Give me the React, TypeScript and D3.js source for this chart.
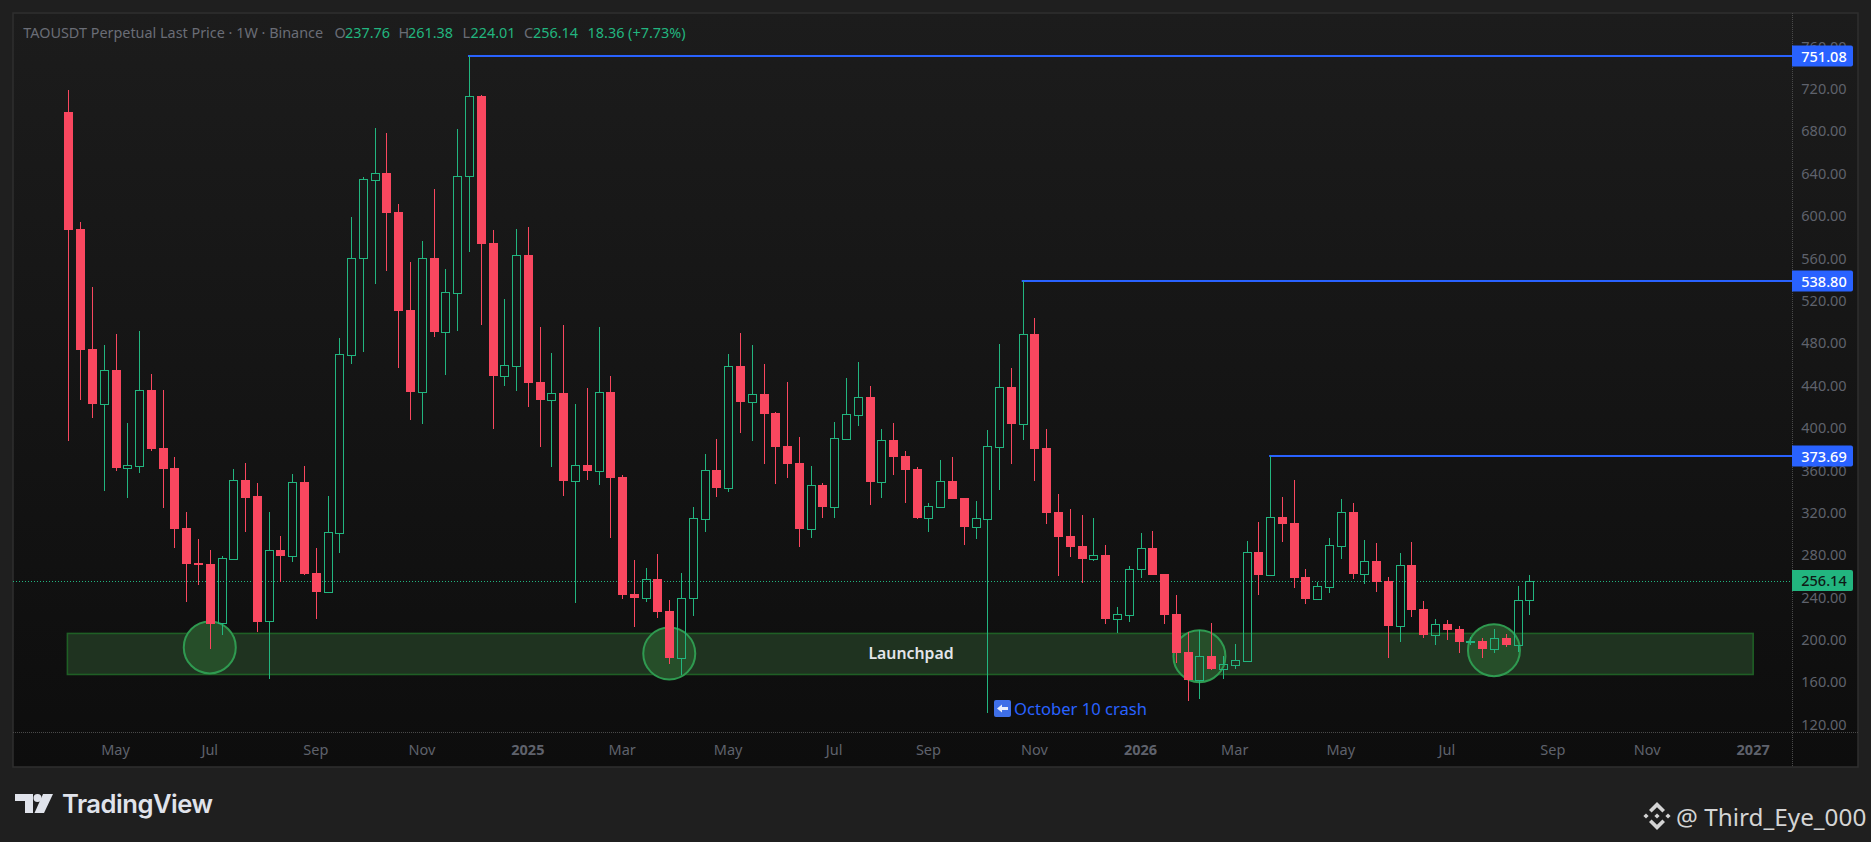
import React, { useRef, useEffect } from "react";
import * as d3 from "d3";

const firstWeek = new Date(Date.UTC(2024, 3, 8));

const opens = [
  698.2, 587.8, 474.5, 422.9, 454.7, 362.5, 364.4, 435.8, 381.1, 362.2,
  305.6, 272.6, 271.6, 215.6, 276.6, 350.9, 335.8, 217.5, 284.8, 279.1,
  349, 263.1, 245.4, 301.1, 469.1, 560.1, 634.3, 640.6, 603.8, 511.3,
  434.2, 560.4, 490.8, 527.7, 637.5, 713.3, 574.6, 449, 458.8, 563.2,
  443.4, 426.7, 433, 350.2, 365, 359.7, 433.9, 353.7, 243.3, 239.8,
  257.4, 227.2, 183.5, 239.2, 314.4, 360.3, 343.6, 458.5, 424.8, 432,
  414.1, 383, 366.9, 304.9, 346.2, 325.7, 389.9, 412.5, 429.2, 349.3,
  388.6, 373.5, 361.2, 315.3, 325.7, 349.9, 333.9, 306.8, 314.4, 382.3,
  438.6, 404, 488.7, 381.1, 320.7, 298, 288.6, 276.6, 280.1, 220,
  223.8, 266.6, 286.7, 262.2, 224.4, 188.5, 162.4, 184.8, 172.8, 176.5,
  180.3, 283.1, 261.5, 316, 310.3, 259.3, 238.9, 250.2, 288.9, 320.7,
  262.4, 274.4, 255.5, 213.4, 270.6, 229.1, 204.9, 215, 210.2, 198.2,
  198.9, 191.7, 201.8, 195.4, 237.76,
];
const closes = [
  586.8, 473.6, 422.6, 454.7, 362.2, 364.8, 435.5, 380.1, 361.2, 304.6,
  271.6, 271.1, 215.2, 277.2, 350.9, 333.9, 216.9, 284.8, 279.1, 349,
  262.2, 245.2, 301.8, 469.8, 560.1, 634.7, 640.3, 602.9, 510.4, 433.9,
  560.1, 490.6, 528, 637.5, 713, 573.6, 449, 459.1, 563, 442.4,
  426.4, 432.7, 349.9, 364.8, 359.4, 433.6, 352.8, 242.3, 239.5, 257.2,
  226.3, 182.9, 239.2, 315, 360, 343.3, 458.2, 424.5, 431.8, 413.2,
  382, 366, 304.6, 345.9, 325.4, 390.2, 412.9, 429, 349, 388.3,
  372.6, 360.3, 315, 326.1, 349.7, 332.9, 306.5, 314.7, 382.7, 438.4,
  403.7, 488.4, 380.1, 319.7, 297.1, 287.6, 276.3, 279.8, 219.7, 224.1,
  266.6, 286.7, 261.2, 223.5, 187.6, 162.1, 184.5, 172.5, 177, 180.7,
  282.6, 261.2, 315.7, 309.4, 258.4, 238.6, 250.6, 289.2, 320.4, 262.2,
  274.2, 254.6, 213.1, 270.4, 228.2, 204.6, 214.7, 209.3, 198, 198.9,
  191.4, 201.5, 195.1, 237.7, 256.14,
];
const highs = [
  719, 594.4, 533, 478.3, 488.7, 404.7, 491.5, 450.9, 435.8, 372.6,
  320.7, 295.2, 284.8, 279.1, 361.2, 366.9, 348, 320.7, 298, 356.5,
  364.1, 286.7, 335.8, 484.9, 599.1, 636.9, 683.1, 678.4, 611.4, 556.6,
  576.4, 625.5, 550, 682.2, 751.08, 714.2, 586.8, 521.7, 587.8, 589.6,
  495.3, 470.7, 497.2, 422.6, 437.7, 495.3, 449, 355.6, 275.4, 267.8,
  281, 237.6, 263.1, 325.4, 375.4, 389.6, 469.8, 489.6, 478.3, 460.4,
  415, 443.4, 391.4, 364.1, 348, 405.6, 447.2, 462.2, 439.6, 399,
  404.7, 378.2, 363.2, 329.2, 369.8, 372.6, 333.9, 331.1, 398.1, 479.2,
  456.6, 538.8, 503.8, 399, 337.7, 323.5, 317.8, 315, 289.5, 231,
  269.7, 300.9, 302.7, 262.2, 242.3, 207.4, 209.3, 215.9, 184.8, 196.1,
  293.3, 311.2, 373.69, 334.8, 350.9, 266.9, 254.6, 296.1, 332.9, 329.2,
  294.2, 291.4, 259.3, 282, 292.4, 236.7, 219.7, 218.7, 213.1, 202.7,
  201.8, 210.2, 205.5, 250.8, 261.38,
];
const lows = [
  387.7, 426.4, 409.4, 340.5, 359.4, 333.9, 357.5, 378.2, 324.4, 286.7,
  235.7, 251.8, 191.4, 204.6, 275.4, 301.8, 207.4, 163.3, 254.6, 273.5,
  261.2, 219.7, 245.2, 282, 460.4, 471.7, 535.9, 548.1, 456.6, 407.5,
  403.7, 485.8, 450, 491.5, 566.1, 497.2, 399, 439.6, 434.9, 419.8,
  382, 363.2, 335.8, 234.8, 350.9, 346.2, 296.1, 238.6, 212.4, 235.7,
  220.6, 177.2, 166.8, 222.5, 301.8, 334.8, 339.6, 395.2, 387.7, 366,
  347.1, 352.8, 287.6, 296.1, 315, 315, 389.6, 401.8, 327.3, 333.9,
  355.6, 329.2, 314.1, 301.8, 325.4, 332.9, 289.5, 295.2, 131, 341.4,
  366, 388.6, 349.9, 309.3, 260.3, 278.2, 253.7, 274.4, 215, 206.5,
  216.9, 258.4, 261.2, 215, 178.2, 142.3, 144.2, 171.6, 163.1, 172.5,
  180.3, 242.3, 261.2, 292.4, 249, 233.8, 238.9, 244.2, 276.3, 257.4,
  252.7, 245.2, 182.9, 198, 221.6, 201.8, 195.1, 199.9, 187.6, 195.1,
  182.9, 187.6, 193.2, 188.5, 224.01,
];

const priceTicks = d3.range(120, 761, 40);
const timeTickDates = [
  "2024-05-06", "2024-07-01", "2024-09-02", "2024-11-04", "2025-01-06", "2025-03-03",
  "2025-05-05", "2025-07-07", "2025-09-01", "2025-11-03", "2026-01-05", "2026-03-02",
  "2026-05-04", "2026-07-06", "2026-09-07", "2026-11-02", "2027-01-04",
];
const timeTickLabels = [
  "May", "Jul", "Sep", "Nov", "2025", "Mar", "May", "Jul", "Sep", "Nov", "2026", "Mar",
  "May", "Jul", "Sep", "Nov", "2027",
];

// horizontal rays from the swing highs
const rayBars = [34, 81, 102];
const rayPrices = [751.08, 538.8, 373.69];
const lastPrice = 256.14;

const zoneTop = 206.2;
const zoneBottom = 167.5;
const zoneEnd = "2027-01-04";
const circleBars = [12, 51, 96, 121];
const circlePrices = [193, 187.3, 184.8, 190.4];

const GREEN = "#22b57f";
const RED = "#f9475f";
const BLUE = "#2962ff";
const FONT = "'Noto Sans', sans-serif";
const GREY = "#5f626c";

const App: React.FC = () => {
  const chartRef = useRef<SVGSVGElement>(null);

  useEffect(() => {
    if (!chartRef.current) return;
    const svg = d3.select(chartRef.current);
    svg.selectAll("*").remove();

    const frame = { left: 13, top: 13, right: 1858, bottom: 767, axisX: 1792, axisY: 732 };

    const barDates = opens.map((_, i) => d3.utcMonday.offset(firstWeek, i));
    const x = d3
      .scaleUtc()
      .domain([barDates[0], barDates[barDates.length - 1]])
      .range([68.4, 1529.3]);
    const y = d3.scaleLinear().domain([120, 751.08]).range([724.8, 56]);

    const defs = svg.append("defs");
    const grad = defs
      .append("linearGradient")
      .attr("id", "paneBg")
      .attr("x1", 0)
      .attr("x2", 0)
      .attr("y1", 0)
      .attr("y2", 1);
    grad.append("stop").attr("offset", "0%").attr("stop-color", "#1c1c1c");
    grad.append("stop").attr("offset", "100%").attr("stop-color", "#0d0d0d");

    svg.append("rect").attr("width", 1871).attr("height", 842).attr("fill", "#1f1f1f");
    svg
      .append("rect")
      .attr("x", frame.left)
      .attr("y", frame.top)
      .attr("width", frame.right - frame.left)
      .attr("height", frame.bottom - frame.top)
      .attr("fill", "url(#paneBg)")
      .attr("stroke", "#2f2f2f")
      .attr("stroke-width", 1.5);

    // pane dividers
    svg
      .append("line")
      .attr("x1", frame.left)
      .attr("x2", frame.right)
      .attr("y1", frame.axisY + 0.5)
      .attr("y2", frame.axisY + 0.5)
      .attr("stroke", "#4a4a4a")
      .attr("stroke-dasharray", "1 1");
    svg
      .append("line")
      .attr("x1", frame.axisX + 0.5)
      .attr("x2", frame.axisX + 0.5)
      .attr("y1", frame.top)
      .attr("y2", frame.bottom)
      .attr("stroke", "#4a4a4a")
      .attr("stroke-dasharray", "1 1");

    // last price line
    svg
      .append("line")
      .attr("x1", frame.left)
      .attr("x2", frame.axisX)
      .attr("y1", Math.round(y(lastPrice)) + 0.5)
      .attr("y2", Math.round(y(lastPrice)) + 0.5)
      .attr("stroke", GREEN)
      .attr("stroke-dasharray", "1 2");

    // Launchpad zone
    const zx0 = x(barDates[0]) - 1;
    const zx1 = x(new Date(zoneEnd));
    svg
      .append("rect")
      .attr("x", zx0)
      .attr("y", y(zoneTop))
      .attr("width", zx1 - zx0)
      .attr("height", y(zoneBottom) - y(zoneTop))
      .attr("fill", "#1f3320")
      .attr("stroke", "#1f5f25")
      .attr("stroke-width", 1.6);

    svg
      .selectAll(".circle")
      .data(circleBars)
      .enter()
      .append("circle")
      .attr("cx", (d) => x(barDates[d]))
      .attr("cy", (_, i) => y(circlePrices[i]))
      .attr("r", 26)
      .attr("fill", "#264e29")
      .attr("stroke", "#2f9a50")
      .attr("stroke-width", 2);

    svg
      .append("text")
      .attr("x", 911)
      .attr("y", y((zoneTop + zoneBottom) / 2))
      .attr("dy", ".35em")
      .attr("text-anchor", "middle")
      .attr("font-family", FONT)
      .attr("font-size", 15.8)
      .attr("font-weight", 600)
      .attr("fill", "#e3e5ea")
      .text("Launchpad");

    // rays
    rayBars.forEach((bar, i) => {
      svg
        .append("line")
        .attr("x1", x(barDates[bar]) - 1)
        .attr("x2", frame.axisX)
        .attr("y1", y(rayPrices[i]))
        .attr("y2", y(rayPrices[i]))
        .attr("stroke", BLUE)
        .attr("stroke-width", 2);
    });

    // candles
    const candles = svg
      .selectAll(".candle")
      .data(opens.map((_, i) => i))
      .enter()
      .append("g")
      .attr("class", "candle")
      .attr("shape-rendering", "crispEdges");

    candles.each(function (i) {
      const g = d3.select(this);
      const up = closes[i] >= opens[i];
      const cx = Math.round(x(barDates[i])) + 0.5;
      const color = up ? GREEN : RED;
      const top = Math.round(y(Math.max(opens[i], closes[i])));
      const bottom = Math.round(y(Math.min(opens[i], closes[i])));
      g.append("line")
        .attr("x1", cx)
        .attr("x2", cx)
        .attr("y1", y(highs[i]))
        .attr("y2", top)
        .attr("stroke", color);
      g.append("line")
        .attr("x1", cx)
        .attr("x2", cx)
        .attr("y1", bottom)
        .attr("y2", y(lows[i]))
        .attr("stroke", color);
      if (up) {
        g.append("rect")
          .attr("x", cx - 4)
          .attr("y", top + 0.5)
          .attr("width", 8)
          .attr("height", Math.max(bottom - top, 1))
          .attr("fill", "none")
          .attr("stroke", color);
      } else {
        g.append("rect")
          .attr("x", cx - 4.5)
          .attr("y", top)
          .attr("width", 9)
          .attr("height", Math.max(bottom - top, 1))
          .attr("fill", color);
      }
    });

    // price axis labels
    svg
      .selectAll(".priceTick")
      .data(priceTicks)
      .enter()
      .append("text")
      .attr("x", 1824)
      .attr("y", (d) => y(d))
      .attr("dy", ".35em")
      .attr("text-anchor", "middle")
      .attr("font-family", FONT)
      .attr("font-size", 14.5)
      .attr("fill", GREY)
      .text((d) => d.toFixed(2));

    // price flags
    const flag = (price: number, fill: string, textFill: string) => {
      const cy = y(price);
      svg
        .append("path")
        .attr(
          "d",
          `M${frame.axisX},${cy - 10.5}H1851a2,2 0 0 1 2,2V${cy + 8.5}a2,2 0 0 1 -2,2H${frame.axisX}Z`
        )
        .attr("fill", fill);
      svg
        .append("text")
        .attr("x", 1824)
        .attr("y", cy + 0.5)
        .attr("dy", ".35em")
        .attr("text-anchor", "middle")
        .attr("font-family", FONT)
        .attr("font-size", 14.5)
        .attr("font-weight", 500)
        .attr("fill", textFill)
        .text(price.toFixed(2));
    };
    rayPrices.forEach((p) => flag(p, BLUE, "#ffffff"));
    flag(lastPrice, GREEN, "#0e1a16");

    // time axis
    svg
      .selectAll(".timeTick")
      .data(timeTickDates)
      .enter()
      .append("text")
      .attr("x", (d) => x(new Date(d)))
      .attr("y", 750)
      .attr("dy", ".35em")
      .attr("text-anchor", "middle")
      .attr("font-family", FONT)
      .attr("font-size", 14.5)
      .attr("font-weight", (_, i) => (timeTickLabels[i].length === 4 ? 700 : 400))
      .attr("fill", GREY)
      .text((_, i) => timeTickLabels[i]);

    // legend
    const legend: [number, string, string][] = [
      [23.3, "TAOUSDT Perpetual Last Price · 1W · Binance", "#6a6d76"],
      [334.5, "O", "#6a6d76"],
      [345, "237.76", GREEN],
      [398.6, "H", "#6a6d76"],
      [408, "261.38", GREEN],
      [462.6, "L", "#6a6d76"],
      [470.5, "224.01", GREEN],
      [524, "C", "#6a6d76"],
      [533, "256.14", GREEN],
      [587.6, "18.36 (+7.73%)", GREEN],
    ];
    legend.forEach(([lx, label, fill]) => {
      svg
        .append("text")
        .attr("x", lx)
        .attr("y", 33)
        .attr("dy", ".35em")
        .attr("font-family", FONT)
        .attr("font-size", 14.4)
        .attr("fill", fill)
        .text(label);
    });

    // note on the crash wick
    const note = svg.append("g").attr("transform", "translate(994,700)");
    note.append("rect").attr("width", 17).attr("height", 17).attr("rx", 2).attr("fill", "#3f6fe8");
    note
      .append("path")
      .attr("d", "M3,8.5L8,4.5V7H14V10H8V12.5Z")
      .attr("fill", "#e8eefc");
    svg
      .append("text")
      .attr("x", 1014)
      .attr("y", 709)
      .attr("dy", ".35em")
      .attr("font-family", FONT)
      .attr("font-size", 16.6)
      .attr("fill", BLUE)
      .text("October 10 crash");

    // TradingView footer
    const logo = svg.append("g").attr("fill", "#e0e3eb");
    logo.append("path").attr("d", "M15,794H33V813H25V801H15Z");
    logo.append("circle").attr("cx", 37.5).attr("cy", 798).attr("r", 4);
    logo.append("path").attr("d", "M43,794H53L44,813H34.5Z");
    svg
      .append("text")
      .attr("x", 62)
      .attr("y", 804)
      .attr("dy", ".35em")
      .attr("font-family", "Inter, sans-serif")
      .attr("font-size", 25.6)
      .attr("font-weight", 600)
      .attr("letter-spacing", -0.5)
      .attr("fill", "#e0e3eb")
      .text("TradingView");

    // watermark
    const mark = svg.append("g").attr("transform", "translate(1657,816)").attr("fill", "#d4d4d4");
    const diamond = (cx: number, cy: number, r: number) =>
      `M${cx - r},${cy}L${cx},${cy - r}L${cx + r},${cy}L${cx},${cy + r}Z`;
    mark.append("path").attr("d", diamond(-11, 0, 2.6));
    mark.append("path").attr("d", diamond(11, 0, 2.6));
    mark.append("path").attr("d", diamond(0, 0, 2.6));
    mark.append("path").attr("d", "M0,-14L8,-6L5.4,-3.4L0,-8.8L-5.4,-3.4L-8,-6Z");
    mark.append("path").attr("d", "M0,14L8,6L5.4,3.4L0,8.8L-5.4,3.4L-8,6Z");
    svg
      .append("text")
      .attr("x", 1676)
      .attr("y", 817)
      .attr("dy", ".35em")
      .attr("font-family", FONT)
      .attr("font-size", 24.3)
      .attr("fill", "#d4d4d4")
      .text("@ Third_Eye_000");
  }, []);

  return (
    <svg
      ref={chartRef}
      width="1871"
      height="842"
      style={{ position: "absolute", left: 0, top: 0, display: "block" }}
    ></svg>
  );
};

export default App;
